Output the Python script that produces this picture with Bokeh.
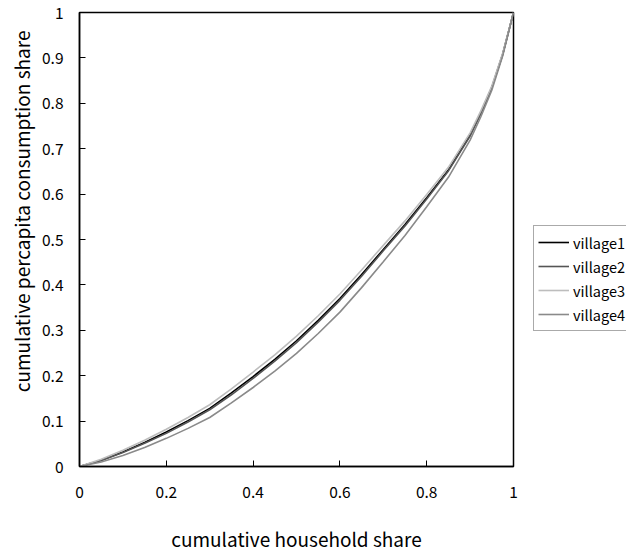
from bokeh.plotting import figure
from bokeh.models import (Legend, LegendItem, FixedTicker, CustomJSTickFormatter,
                          Title, Range1d)
from bokeh.embed import file_html
from bokeh.resources import INLINE

# cumulative household share
household_share = [0, .05, .1, .15, .2, .25, .3, .35, .4, .45, .5,
                   .55, .6, .65, .7, .75, .8, .85, .9, .925, .95, .975, 1]
# cumulative per-capita consumption share
village1 = [0, .014, .032, .053, .076, .101, .128, .162, .198, .236, .277,
            .322, .370, .423, .478, .533, .592, .653, .730, .780, .835, .908, 1]
village2 = [0, .013, .031, .051, .073, .098, .125, .158, .194, .232, .273,
            .318, .366, .419, .475, .530, .589, .651, .728, .778, .834, .907, 1]
village3 = [0, .016, .036, .058, .082, .108, .136, .171, .208, .246, .287,
            .332, .380, .433, .487, .541, .599, .659, .735, .784, .838, .910, 1]
village4 = [0, .010, .024, .042, .062, .084, .108, .140, .174, .210, .249,
            .293, .340, .394, .451, .509, .572, .637, .719, .771, .829, .904, 1]

series_names = ["village1", "village2", "village3", "village4"]
series_values = [village1, village2, village3, village4]
series_colors = ["#000000", "#555555", "#bdbdbd", "#8a8a8a"]

x_ticks = [0, 0.2, 0.4, 0.6, 0.8, 1]
y_ticks = [0, 0.1, 0.2, 0.3, 0.4, 0.5, 0.6, 0.7, 0.8, 0.9, 1]

FONT = "Noto Sans CJK JP"

p = figure(frame_width=434, frame_height=454,
           min_border_left=79, min_border_right=113,
           min_border_top=12, min_border_bottom=86,
           x_range=Range1d(0, 1), y_range=Range1d(0, 1),
           output_backend="svg", toolbar_location=None)

p.background_fill_color = "white"
p.border_fill_color = "white"
p.grid.visible = False
p.outline_line_color = "black"
p.outline_line_width = 1.5

renderers = []
for name, vals, col in zip(series_names, series_values, series_colors):
    r = p.line(household_share, vals, line_color=col, line_width=1.6)
    renderers.append((name, r))

fmt = CustomJSTickFormatter(code="return String(Math.round(tick*10)/10);")

for ax, ticks in ((p.xaxis[0], x_ticks), (p.yaxis[0], y_ticks)):
    ax.ticker = FixedTicker(ticks=ticks)
    ax.formatter = fmt
    ax.axis_line_color = "black"
    ax.axis_line_width = 1.5
    ax.major_tick_in = 6
    ax.major_tick_out = 0
    ax.major_tick_line_color = "black"
    ax.minor_tick_line_color = None
    ax.major_label_text_font = FONT
    ax.major_label_text_font_size = "15.5px"
    ax.major_label_text_color = "black"

p.xaxis.major_label_standoff = 19
p.yaxis.major_label_standoff = 16

p.xaxis.axis_label = "cumulative household share"
p.xaxis.axis_label_text_font = FONT
p.xaxis.axis_label_text_font_size = "19px"
p.xaxis.axis_label_text_font_style = "normal"
p.xaxis.axis_label_standoff = 24
p.xaxis.axis_label_text_color = "black"

ytitle = Title(text="cumulative percapita consumption share", align="right",
               offset=18, standoff=7, text_font=FONT, text_font_size="19px",
               text_font_style="normal", text_color="black")
p.add_layout(ytitle, "left")

legend = Legend(items=[LegendItem(label=n, renderers=[r]) for n, r in renderers],
                location=(20, 135))
legend.border_line_color = "#555555"
legend.border_line_width = 1
legend.background_fill_color = "white"
legend.padding = 4
legend.spacing = 0
legend.margin = 0
legend.label_height = 24
legend.glyph_height = 24
legend.glyph_width = 31
legend.label_standoff = 4
legend.label_text_font = FONT
legend.label_text_font_size = "14.5px"
legend.label_text_color = "black"
p.add_layout(legend, "right")

open("out.html", "w").write(file_html(p, INLINE))
